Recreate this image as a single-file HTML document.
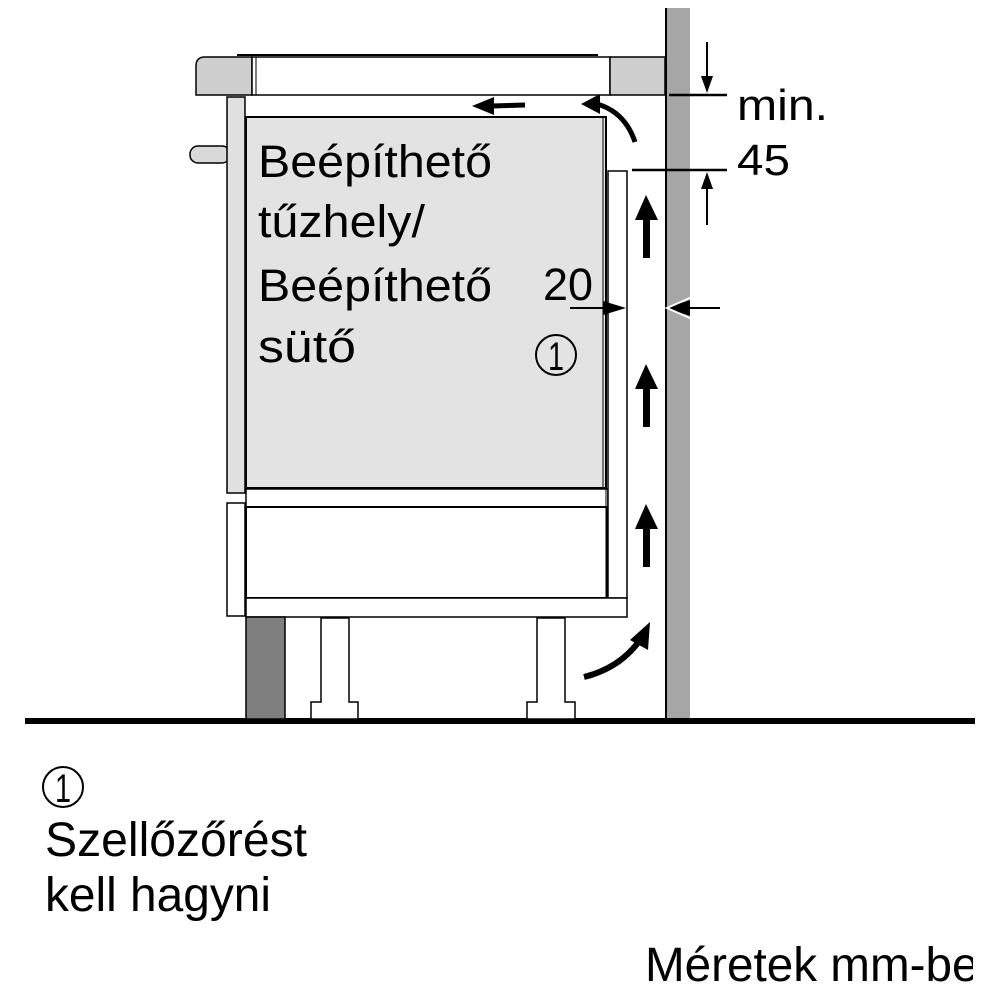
<!DOCTYPE html>
<html><head><meta charset="utf-8"><style>
html,body{margin:0;padding:0;background:#fff;}
svg{display:block;}
text{font-family:"Liberation Sans",sans-serif;fill:#000;}
</style></head><body>
<svg width="1000" height="1000" viewBox="0 0 1000 1000" xmlns="http://www.w3.org/2000/svg">
<defs>
<clipPath id="c"><rect x="0" y="0" width="973" height="1000"/></clipPath>
</defs>
<rect x="665" y="8" width="25" height="712" fill="#a6a6a6"/>
<line x1="666" y1="8" x2="666" y2="720" stroke="#000" stroke-width="2"/>
<rect x="25" y="718" width="950" height="6" fill="#000"/>

<line x1="237" y1="55" x2="598" y2="55" stroke="#000" stroke-width="2"/>
<path d="M252 57 H205 Q196 57 196 66 V95 H252 Z" fill="#cfcfcf" stroke="#000" stroke-width="1.5"/>
<rect x="252" y="57" width="358" height="38" fill="#fff" stroke="#000" stroke-width="1.5"/>
<line x1="256" y1="57" x2="256" y2="95" stroke="#000" stroke-width="1"/>
<rect x="610" y="57" width="55" height="38" fill="#cfcfcf" stroke="#000" stroke-width="1.5"/>

<rect x="190" y="146" width="40" height="17" rx="8" fill="#d9d9d9" stroke="#000" stroke-width="1.5"/>
<rect x="227" y="97" width="18" height="396" fill="#e0e0e0" stroke="#000" stroke-width="1.5"/>
<rect x="246" y="117" width="360" height="371" fill="#e3e3e3" stroke="#000" stroke-width="2"/>
<line x1="603" y1="117" x2="603" y2="488" stroke="#000" stroke-width="1"/>
<rect x="246" y="489" width="362" height="18" fill="#fff" stroke="#000" stroke-width="1.5"/>
<rect x="227" y="503" width="18" height="113" fill="#fff" stroke="#000" stroke-width="1.5"/>
<rect x="246" y="507" width="361" height="91" fill="#fff" stroke="#000" stroke-width="2"/>
<rect x="608" y="171" width="19" height="427" fill="#fff" stroke="#000" stroke-width="1.5"/>
<line x1="606" y1="171" x2="606" y2="598" stroke="#000" stroke-width="1"/>
<rect x="246" y="598" width="381" height="19" fill="#fff" stroke="#000" stroke-width="1.5"/>
<rect x="246" y="617" width="39" height="102" fill="#7f7f7f" stroke="#000" stroke-width="1.5"/>
<path d="M321 618 H349 V702 H358 V719 H311 V702 H321 Z" fill="#fff" stroke="#000" stroke-width="1.5"/>
<path d="M537 618 H565 V702 H575 V719 H527 V702 H537 Z" fill="#fff" stroke="#000" stroke-width="1.5"/>

<line x1="525" y1="105" x2="492" y2="106" stroke="#000" stroke-width="5"/>
<polygon points="472,106 494,97 494,115" fill="#000"/>
<path d="M635 142 Q625 112 597 104" fill="none" stroke="#000" stroke-width="5"/>
<polygon points="581,104 600,94 600,114" fill="#000"/>
<g fill="#000">
<rect x="643" y="216" width="7" height="42"/><polygon points="646,195 635,220 658,220"/>
<rect x="643" y="385" width="7" height="42"/><polygon points="646,364 635,389 658,389"/>
<rect x="643" y="525" width="7" height="42"/><polygon points="646,504 635,529 658,529"/>
</g>
<path d="M584 677 Q620 668 640 640" fill="none" stroke="#000" stroke-width="6"/>
<polygon points="650,622 630,640 648,650" fill="#000"/>

<line x1="669" y1="95" x2="727" y2="95" stroke="#000" stroke-width="2.5"/>
<line x1="707" y1="42" x2="707" y2="80" stroke="#000" stroke-width="2"/>
<polygon points="707,93 701,76 713,76" fill="#000"/>
<line x1="632" y1="170" x2="727" y2="170" stroke="#000" stroke-width="2.5"/>
<line x1="707" y1="186" x2="707" y2="225" stroke="#000" stroke-width="2"/>
<polygon points="707,172 701,189 713,189" fill="#000"/>
<line x1="570" y1="308" x2="610" y2="308" stroke="#000" stroke-width="2"/>
<polygon points="626,308 603,301 603,315" fill="#000"/>
<line x1="720" y1="308" x2="685" y2="308" stroke="#000" stroke-width="2"/>
<polygon points="666,308 690,300 690,316" fill="#000"/>
<polyline points="692,297 667,308 692,319" fill="none" stroke="#fff" stroke-width="2"/>

<text x="258" y="177" font-size="45" textLength="234" lengthAdjust="spacingAndGlyphs">Beépíthető</text>
<text x="258" y="237" font-size="45" textLength="167" lengthAdjust="spacingAndGlyphs">tűzhely/</text>
<text x="258" y="301" font-size="45" textLength="234" lengthAdjust="spacingAndGlyphs">Beépíthető</text>
<text x="258" y="362" font-size="45" textLength="98" lengthAdjust="spacingAndGlyphs">sütő</text>
<text x="543" y="300" font-size="45" textLength="50" lengthAdjust="spacingAndGlyphs">20</text>
<circle cx="556" cy="355" r="20" fill="none" stroke="#000" stroke-width="2"/>
<text x="556" y="370" font-size="40" text-anchor="middle" textLength="16" lengthAdjust="spacingAndGlyphs">1</text>
<text x="737" y="120" font-size="44" textLength="91" lengthAdjust="spacingAndGlyphs">min.</text>
<text x="737" y="175" font-size="44" textLength="53" lengthAdjust="spacingAndGlyphs">45</text>

<circle cx="63" cy="787" r="20" fill="none" stroke="#000" stroke-width="2"/>
<text x="63" y="802" font-size="40" text-anchor="middle" textLength="16" lengthAdjust="spacingAndGlyphs">1</text>
<text x="45" y="856" font-size="48" textLength="262" lengthAdjust="spacingAndGlyphs">Szellőzőrést</text>
<text x="45" y="911" font-size="48" textLength="226" lengthAdjust="spacingAndGlyphs">kell hagyni</text>
<g clip-path="url(#c)">
<text x="645" y="981" font-size="48" textLength="360" lengthAdjust="spacingAndGlyphs">Méretek mm-ben</text>
</g>
</svg>
</body></html>
